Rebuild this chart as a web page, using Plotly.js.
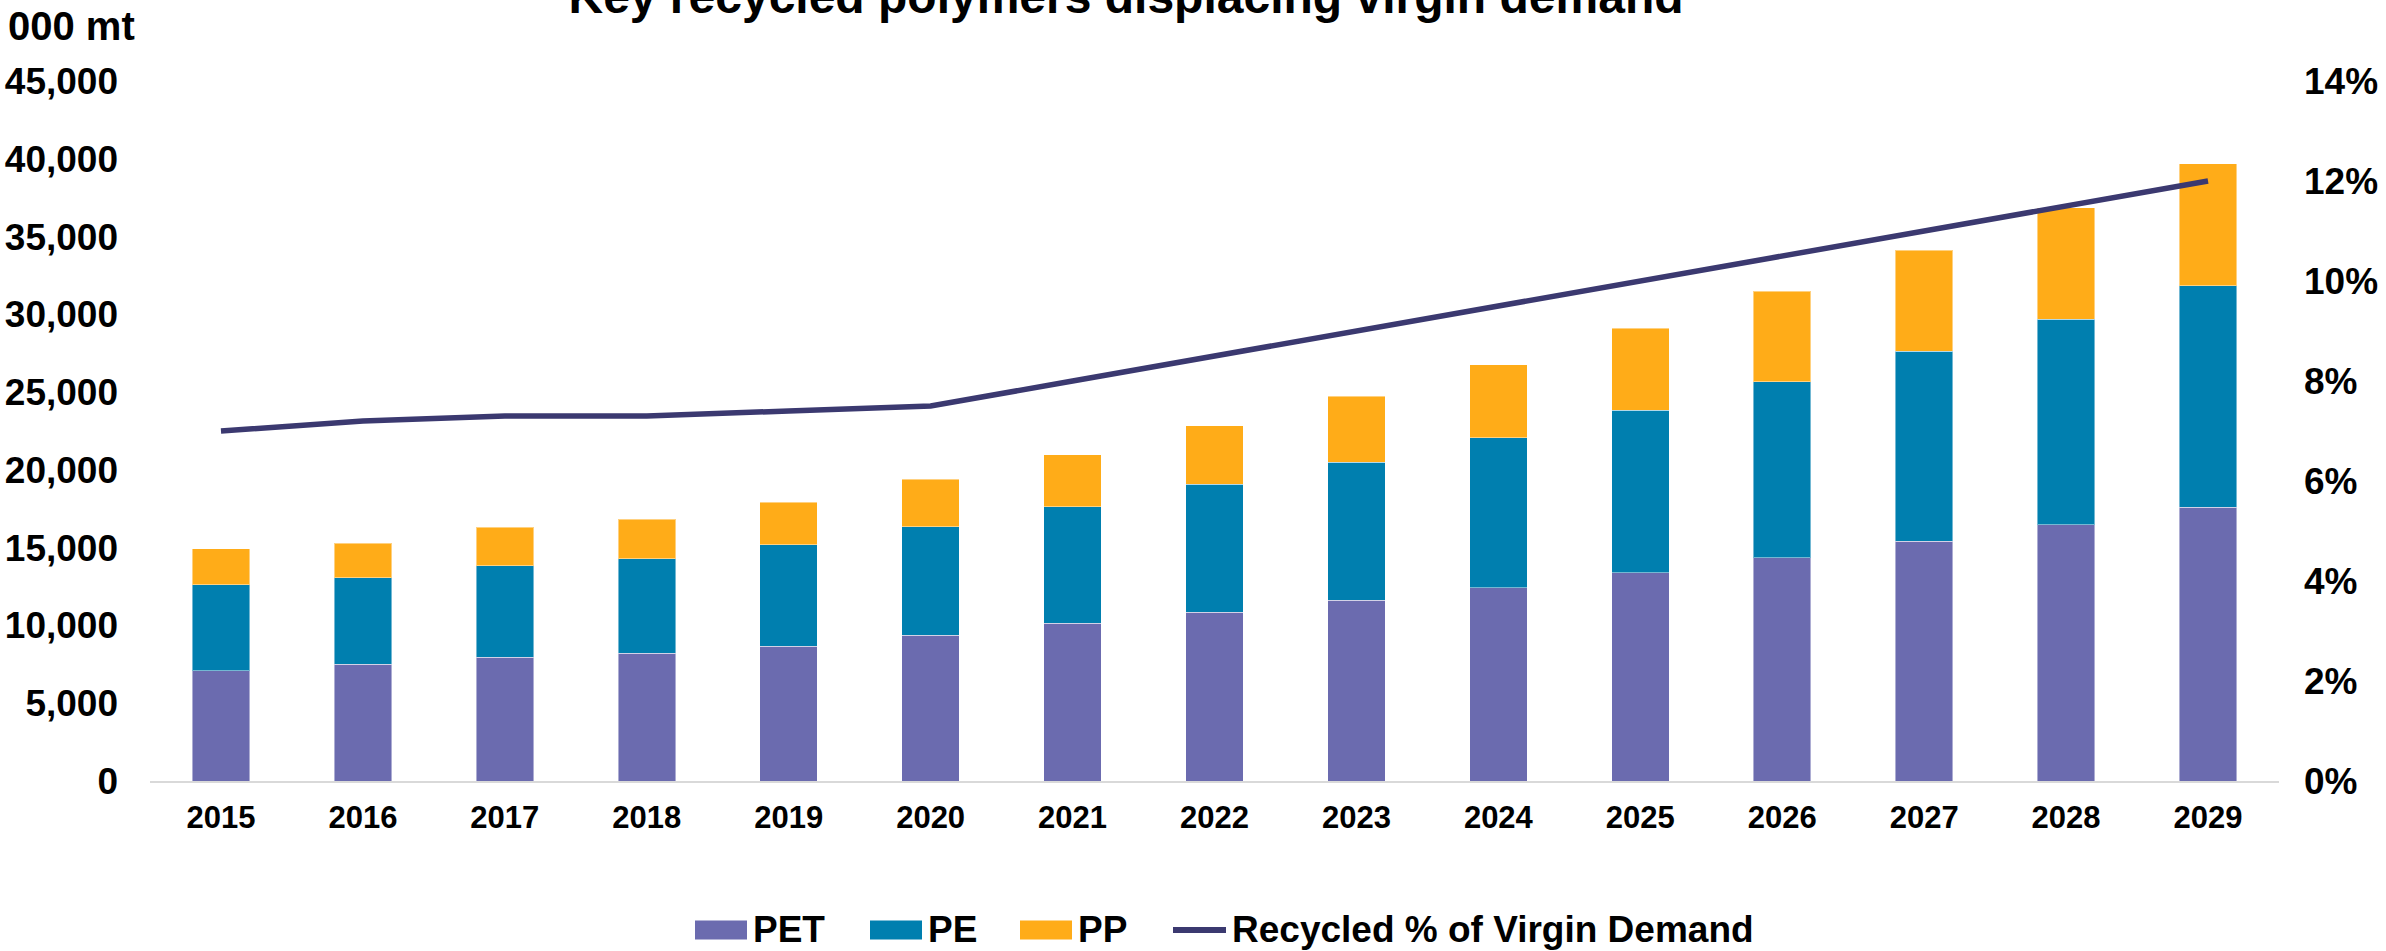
<!DOCTYPE html>
<html>
<head>
<meta charset="utf-8">
<script src="https://cdn.plot.ly/plotly-3.0.1.min.js"></script>
<style>
  html, body { margin: 0; padding: 0; background: #ffffff; }
  #chart { width: 2386px; height: 951px; }
</style>
</head>
<body>
<div id="chart"></div>
<script>
// ---- Data ----
const years = ['2015','2016','2017','2018','2019','2020','2021','2022','2023','2024','2025','2026','2027','2028','2029'];
const petValues = [7080, 7510, 7940, 8200, 8670, 9360, 10150, 10850, 11630, 12420, 13380, 14350, 15420, 16460, 17590];
const peValues  = [5540, 5560, 5900, 6080, 6510, 7000, 7480, 8220, 8860, 9640, 10440, 11320, 12220, 13220, 14240];
const ppValues  = [2300, 2220, 2470, 2560, 2750, 3050, 3350, 3760, 4260, 4700, 5270, 5800, 6480, 7180, 7850];
const recycledShare = [0.070, 0.072, 0.073, 0.073, 0.074, 0.075, 0.080, 0.085, 0.090, 0.095, 0.100, 0.105, 0.110, 0.115, 0.120];
const seriesNames = ['PET', 'PE', 'PP', 'Recycled % of Virgin Demand'];
const titleText = 'Key recycled polymers displacing virgin demand';
const unitLabel = '000 mt';

// ---- Styles ----
const colors = { PET: '#6B6BAF', PE: '#007FAF', PP: '#FFAC18', line: '#3B3970' };
const FONT = 'Liberation Sans, Arial, Helvetica, sans-serif';

const W = 2386, H = 951;
const M = { l: 150, r: 107, t: 81, b: 170 };
const PW = W - M.l - M.r, PH = H - M.t - M.b;
const px = x => (x - M.l) / PW;          // pixel -> paper x
const py = y => (H - M.b - y) / PH;      // pixel -> paper y

const barLine = { width: 1, color: 'rgba(255,255,255,0.45)' };

const traces = [
  { type: 'bar', name: seriesNames[0], x: years, y: petValues, marker: { color: colors.PET, line: barLine }, hoverinfo: 'x+y+name' },
  { type: 'bar', name: seriesNames[1], x: years, y: peValues,  marker: { color: colors.PE,  line: barLine }, hoverinfo: 'x+y+name' },
  { type: 'bar', name: seriesNames[2], x: years, y: ppValues,  marker: { color: colors.PP,  line: barLine }, hoverinfo: 'x+y+name' },
  { type: 'scatter', mode: 'lines', name: seriesNames[3], x: years, y: recycledShare, yaxis: 'y2',
    line: { color: colors.line, width: 5.5 }, hoverinfo: 'x+y+name' }
];

// Custom legend (large swatches like the reference)
const legendItems = [
  { kind: 'bar',  color: colors.PET, x0: 695,  x1: 747,  label: seriesNames[0] },
  { kind: 'bar',  color: colors.PE,  x0: 870,  x1: 922,  label: seriesNames[1] },
  { kind: 'bar',  color: colors.PP,  x0: 1020, x1: 1072, label: seriesNames[2] },
  { kind: 'line', color: colors.line, x0: 1173, x1: 1226, label: seriesNames[3] }
];
const legendY = 930;
const shapes = [];
const annotations = [];
legendItems.forEach(it => {
  if (it.kind === 'bar') {
    shapes.push({ type: 'rect', xref: 'paper', yref: 'paper',
      x0: px(it.x0), x1: px(it.x1), y0: py(legendY + 9.5), y1: py(legendY - 9.5),
      fillcolor: it.color, line: { width: 0 } });
  } else {
    shapes.push({ type: 'line', xref: 'paper', yref: 'paper',
      x0: px(it.x0), x1: px(it.x1), y0: py(legendY), y1: py(legendY),
      line: { color: it.color, width: 6 } });
  }
  annotations.push({ xref: 'paper', yref: 'paper', x: px(it.x1 + 4), y: py(legendY - 1),
    xanchor: 'left', yanchor: 'middle', showarrow: false, text: it.label,
    font: { family: FONT, size: 37, color: '#000000', weight: 'bold' } });
});
// unit label
annotations.push({ xref: 'paper', yref: 'paper', x: px(6), y: py(26),
  xanchor: 'left', yanchor: 'middle', showarrow: false, text: unitLabel,
  font: { family: FONT, size: 40, color: '#000000', weight: 'bold' } });

const layout = {
  width: W, height: H,
  margin: M,
  paper_bgcolor: '#ffffff', plot_bgcolor: '#ffffff',
  barmode: 'stack',
  bargap: 0.595,
  showlegend: false,
  font: { family: FONT, color: '#000000', weight: 'bold' },
  title: {
    text: titleText,
    xref: 'container', yref: 'container',
    x: 1126 / W, xanchor: 'center',
    y: 1 - 13 / H, yanchor: 'bottom',
    font: { family: FONT, size: 48, color: '#000000', weight: 'bold' }
  },
  xaxis: {
    type: 'category',
    showgrid: false, zeroline: false,
    showline: true, linecolor: '#D9D9D9', linewidth: 2,
    ticks: '', ticklabelstandoff: 8,
    tickfont: { family: FONT, size: 31, color: '#000000', weight: 'bold' }
  },
  yaxis: {
    range: [0, 45000], dtick: 5000, tickformat: ',d',
    showgrid: false, zeroline: false, showline: false,
    ticks: '', ticklabelstandoff: 31,
    tickfont: { family: FONT, size: 37, color: '#000000', weight: 'bold' }
  },
  yaxis2: {
    overlaying: 'y', side: 'right',
    range: [0, 0.14], dtick: 0.02, tickformat: '.0%',
    showgrid: false, zeroline: false, showline: false,
    ticks: '', ticklabelstandoff: 24,
    tickfont: { family: FONT, size: 37, color: '#000000', weight: 'bold' }
  },
  shapes: shapes,
  annotations: annotations
};

Plotly.newPlot('chart', traces, layout, { displayModeBar: false, responsive: false });
</script>
</body>
</html>
